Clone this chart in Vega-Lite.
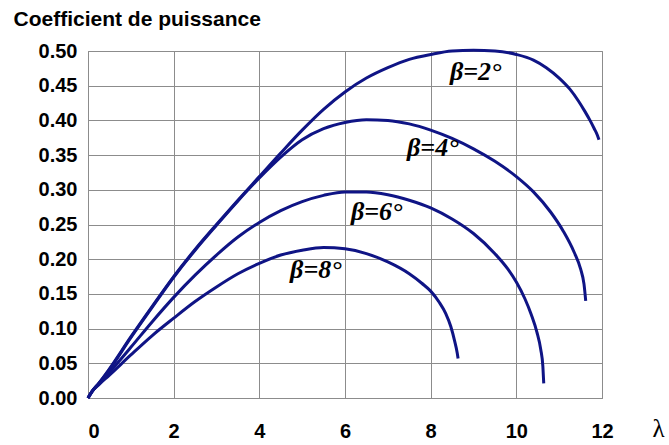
{
  "$schema": "https://vega.github.io/schema/vega-lite/v6.json",
  "width": 514,
  "height": 347,
  "autosize": "none",
  "padding": {"left": 88, "top": 51, "right": 67, "bottom": 47},
  "background": "white",
  "config": {"view": {"stroke": "#8c8c8c", "strokeWidth": 1}},
  "encoding": {
    "x": {
      "field": "lam", "type": "quantitative",
      "scale": {"domain": [0, 12], "nice": false, "zero": false},
      "axis": {
        "values": [0, 2, 4, 6, 8, 10, 12],
        "grid": true, "gridColor": "#8c8c8c", "gridWidth": 1,
        "domainColor": "#8c8c8c", "ticks": false,
        "labelFont": "Liberation Sans", "labelFontSize": 20, "labelFontWeight": "bold", "labelColor": "#000000",
        "labelPadding": 23, "labelFlush": false, "labelOverlap": false,
        "labelAlign": {"expr": "datum.value == 0 ? 'left' : 'center'"},
        "title": "λ", "titleFont": "Liberation Serif", "titleFontSize": 25, "titleFontWeight": "normal", "titleColor": "#000000",
        "titleX": 570, "titleY": 30, "titleAlign": "center", "titleBaseline": "middle"
      }
    },
    "y": {
      "field": "cp", "type": "quantitative",
      "scale": {"domain": [0, 0.5], "nice": false},
      "axis": {
        "values": [0, 0.05, 0.1, 0.15, 0.2, 0.25, 0.3, 0.35, 0.4, 0.45, 0.5],
        "format": ".2f",
        "grid": true, "gridColor": "#8c8c8c", "gridWidth": 1,
        "domainColor": "#8c8c8c", "ticks": false,
        "labelFont": "Liberation Sans", "labelFontSize": 20, "labelFontWeight": "bold", "labelColor": "#000000",
        "labelPadding": 11, "labelFlush": false, "labelOverlap": false,
        "title": "Coefficient de puissance", "titleFont": "Liberation Sans", "titleFontSize": 21, "titleFontWeight": "bold", "titleColor": "#000000",
        "titleAngle": 0, "titleX": -75, "titleY": -26, "titleAlign": "left", "titleBaseline": "alphabetic"
      }
    }
  },
  "layer": [
    {
      "data": {"values": [
        {"beta": "2", "lam": 0, "cp": 0}, {"beta": "2", "lam": 0.1, "cp": 0.01}, {"beta": "2", "lam": 0.25, "cp": 0.021}, {"beta": "2", "lam": 0.5, "cp": 0.042}, {"beta": "2", "lam": 1, "cp": 0.088}, {"beta": "2", "lam": 1.5, "cp": 0.132}, {"beta": "2", "lam": 2, "cp": 0.175}, {"beta": "2", "lam": 2.5, "cp": 0.214}, {"beta": "2", "lam": 3, "cp": 0.25}, {"beta": "2", "lam": 3.5, "cp": 0.285}, {"beta": "2", "lam": 4, "cp": 0.319}, {"beta": "2", "lam": 4.5, "cp": 0.353}, {"beta": "2", "lam": 5, "cp": 0.386}, {"beta": "2", "lam": 5.5, "cp": 0.416}, {"beta": "2", "lam": 6, "cp": 0.441}, {"beta": "2", "lam": 6.5, "cp": 0.461}, {"beta": "2", "lam": 7, "cp": 0.476}, {"beta": "2", "lam": 7.5, "cp": 0.488}, {"beta": "2", "lam": 8, "cp": 0.495}, {"beta": "2", "lam": 8.5, "cp": 0.5}, {"beta": "2", "lam": 9, "cp": 0.501}, {"beta": "2", "lam": 9.5, "cp": 0.5}, {"beta": "2", "lam": 10, "cp": 0.495}, {"beta": "2", "lam": 10.4, "cp": 0.487}, {"beta": "2", "lam": 10.7, "cp": 0.476}, {"beta": "2", "lam": 11, "cp": 0.461}, {"beta": "2", "lam": 11.25, "cp": 0.445}, {"beta": "2", "lam": 11.45, "cp": 0.428}, {"beta": "2", "lam": 11.6, "cp": 0.413}, {"beta": "2", "lam": 11.72, "cp": 0.4}, {"beta": "2", "lam": 11.82, "cp": 0.388}, {"beta": "2", "lam": 11.89, "cp": 0.379}, {"beta": "2", "lam": 11.93, "cp": 0.372},
        {"beta": "4", "lam": 0, "cp": 0}, {"beta": "4", "lam": 0.1, "cp": 0.01}, {"beta": "4", "lam": 0.25, "cp": 0.021}, {"beta": "4", "lam": 0.5, "cp": 0.041}, {"beta": "4", "lam": 1, "cp": 0.087}, {"beta": "4", "lam": 1.5, "cp": 0.131}, {"beta": "4", "lam": 2, "cp": 0.174}, {"beta": "4", "lam": 2.5, "cp": 0.213}, {"beta": "4", "lam": 3, "cp": 0.249}, {"beta": "4", "lam": 3.5, "cp": 0.284}, {"beta": "4", "lam": 4, "cp": 0.317}, {"beta": "4", "lam": 4.5, "cp": 0.347}, {"beta": "4", "lam": 5, "cp": 0.372}, {"beta": "4", "lam": 5.5, "cp": 0.388}, {"beta": "4", "lam": 6, "cp": 0.397}, {"beta": "4", "lam": 6.5, "cp": 0.401}, {"beta": "4", "lam": 7, "cp": 0.4}, {"beta": "4", "lam": 7.5, "cp": 0.395}, {"beta": "4", "lam": 8, "cp": 0.386}, {"beta": "4", "lam": 8.5, "cp": 0.374}, {"beta": "4", "lam": 9, "cp": 0.359}, {"beta": "4", "lam": 9.5, "cp": 0.341}, {"beta": "4", "lam": 10, "cp": 0.319}, {"beta": "4", "lam": 10.4, "cp": 0.297}, {"beta": "4", "lam": 10.8, "cp": 0.268}, {"beta": "4", "lam": 11.1, "cp": 0.24}, {"beta": "4", "lam": 11.35, "cp": 0.21}, {"beta": "4", "lam": 11.5, "cp": 0.186}, {"beta": "4", "lam": 11.58, "cp": 0.164}, {"beta": "4", "lam": 11.62, "cp": 0.14},
        {"beta": "6", "lam": 0, "cp": 0}, {"beta": "6", "lam": 0.1, "cp": 0.01}, {"beta": "6", "lam": 0.25, "cp": 0.02}, {"beta": "6", "lam": 0.5, "cp": 0.037}, {"beta": "6", "lam": 1, "cp": 0.073}, {"beta": "6", "lam": 1.5, "cp": 0.11}, {"beta": "6", "lam": 2, "cp": 0.145}, {"beta": "6", "lam": 2.5, "cp": 0.177}, {"beta": "6", "lam": 3, "cp": 0.206}, {"beta": "6", "lam": 3.5, "cp": 0.232}, {"beta": "6", "lam": 4, "cp": 0.253}, {"beta": "6", "lam": 4.5, "cp": 0.27}, {"beta": "6", "lam": 5, "cp": 0.283}, {"beta": "6", "lam": 5.5, "cp": 0.292}, {"beta": "6", "lam": 6, "cp": 0.297}, {"beta": "6", "lam": 6.5, "cp": 0.297}, {"beta": "6", "lam": 7, "cp": 0.293}, {"beta": "6", "lam": 7.5, "cp": 0.285}, {"beta": "6", "lam": 8, "cp": 0.274}, {"beta": "6", "lam": 8.5, "cp": 0.258}, {"beta": "6", "lam": 9, "cp": 0.237}, {"beta": "6", "lam": 9.5, "cp": 0.208}, {"beta": "6", "lam": 9.8, "cp": 0.186}, {"beta": "6", "lam": 10, "cp": 0.167}, {"beta": "6", "lam": 10.2, "cp": 0.143}, {"beta": "6", "lam": 10.35, "cp": 0.12}, {"beta": "6", "lam": 10.48, "cp": 0.095}, {"beta": "6", "lam": 10.57, "cp": 0.07}, {"beta": "6", "lam": 10.62, "cp": 0.045}, {"beta": "6", "lam": 10.64, "cp": 0.021},
        {"beta": "8", "lam": 0, "cp": 0}, {"beta": "8", "lam": 0.1, "cp": 0.01}, {"beta": "8", "lam": 0.25, "cp": 0.019}, {"beta": "8", "lam": 0.5, "cp": 0.033}, {"beta": "8", "lam": 1, "cp": 0.062}, {"beta": "8", "lam": 1.5, "cp": 0.09}, {"beta": "8", "lam": 2, "cp": 0.115}, {"beta": "8", "lam": 2.5, "cp": 0.139}, {"beta": "8", "lam": 3, "cp": 0.16}, {"beta": "8", "lam": 3.5, "cp": 0.179}, {"beta": "8", "lam": 4, "cp": 0.194}, {"beta": "8", "lam": 4.5, "cp": 0.206}, {"beta": "8", "lam": 5, "cp": 0.213}, {"beta": "8", "lam": 5.5, "cp": 0.217}, {"beta": "8", "lam": 6, "cp": 0.215}, {"beta": "8", "lam": 6.5, "cp": 0.208}, {"beta": "8", "lam": 7, "cp": 0.196}, {"beta": "8", "lam": 7.5, "cp": 0.179}, {"beta": "8", "lam": 7.8, "cp": 0.165}, {"beta": "8", "lam": 8, "cp": 0.154}, {"beta": "8", "lam": 8.2, "cp": 0.138}, {"beta": "8", "lam": 8.35, "cp": 0.122}, {"beta": "8", "lam": 8.47, "cp": 0.103}, {"beta": "8", "lam": 8.56, "cp": 0.082}, {"beta": "8", "lam": 8.62, "cp": 0.065}, {"beta": "8", "lam": 8.64, "cp": 0.057}
      ]},
      "mark": {"type": "line", "color": "#0f1485", "strokeWidth": 3, "interpolate": "monotone", "strokeCap": "butt"},
      "encoding": {
        "detail": {"field": "beta", "type": "nominal"}
      }
    },
    {
      "data": {"values": [
        {"lam": 9.05, "cp": 0.47, "label": "β=2°"},
        {"lam": 8.05, "cp": 0.36, "label": "β=4°"},
        {"lam": 6.74, "cp": 0.268, "label": "β=6°"},
        {"lam": 5.32, "cp": 0.184, "label": "β=8°"}
      ]},
      "mark": {"type": "text", "font": "Liberation Serif", "fontStyle": "italic", "fontWeight": "bold", "fontSize": 26, "color": "#000000", "align": "center", "baseline": "middle"},
      "encoding": {
        "text": {"field": "label"}
      }
    }
  ]
}
